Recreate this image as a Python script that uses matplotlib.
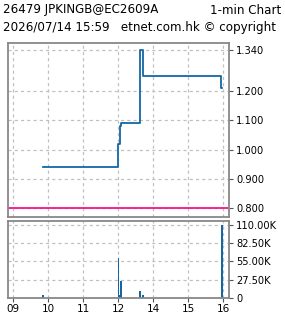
import matplotlib
matplotlib.use("Agg")
import matplotlib.pyplot as plt
from matplotlib.ticker import FixedLocator, FixedFormatter

# ---- data ----
price_times = ["09:51", "13:00", "13:03", "13:05", "13:37", "13:42", "15:56", "15:58"]
price_values = [0.94, 1.02, 1.08, 1.09, 1.34, 1.25, 1.21, 1.21]
vol_times = ["09:51", "13:00", "13:03", "13:05", "13:37", "13:42", "15:58"]
vol_values = [4000, 60000, 4000, 25000, 10500, 4000, 110000]
ref_price = 0.80
price_ticks = [0.80, 0.90, 1.00, 1.10, 1.20, 1.34]
price_tick_labels = ["0.800", "0.900", "1.000", "1.100", "1.200", "1.340"]
vol_ticks = [0, 27500, 55000, 82500, 110000]
vol_tick_labels = ["0", "27.50K", "55.00K", "82.50K", "110.00K"]
hour_ticks = [9, 10, 11, 12, 13, 14, 15]
hour_tick_labels = ["09", "10", "11", "12", "14", "15", "16"]
title_left = "26479 JPKINGB@EC2609A"
title_right = "1-min Chart"
subtitle = "2026/07/14 15:59   etnet.com.hk \u00a9 copyright"


def tpos(s):
    """Trading-time position in hours with the lunch break removed."""
    h, m = map(int, s.split(":"))
    t = h + m / 60.0
    return t if t < 13 else t - 1


px = [tpos(t) for t in price_times]
vx = [tpos(t) for t in vol_times]

W, H = 285, 318
fig = plt.figure(figsize=(W / 100, H / 100), dpi=100)
fig.patch.set_facecolor("white")

line_color = "#1467a3"
grid_kw = dict(color="#c0c0c0", linestyle=(0, (2.5, 2.5)), linewidth=0.9)
frame_color = "#888888"
fs = 7.1


def fr(l, t, r, b):
    return [l / W, 1 - b / H, (r - l) / W, (b - t) / H]


ax = fig.add_axes(fr(8, 43, 229, 217))
av = fig.add_axes(fr(8, 221, 229, 298))

xmin, xmax = 8.85, 15.16
for a in (ax, av):
    a.set_xlim(xmin, xmax)
    for s in a.spines.values():
        s.set_color(frame_color)
        s.set_linewidth(1.3)
    a.xaxis.set_major_locator(FixedLocator(hour_ticks))
    a.grid(True, **grid_kw)
    a.set_axisbelow(True)
    a.yaxis.tick_right()
    a.tick_params(axis="y", which="both", direction="out", length=3, width=0.8,
                  color="#555555", labelsize=fs, pad=2, left=False, right=True)

# price panel
ax.step(px, price_values, where="post", color=line_color, linewidth=1.3)
ax.axhline(ref_price, color="#ff1088", linewidth=1.3)
ax.set_ylim(0.77, 1.364)
ax.yaxis.set_major_locator(FixedLocator(price_ticks))
ax.yaxis.set_major_formatter(FixedFormatter(price_tick_labels))
ax.tick_params(axis="x", bottom=False, labelbottom=False)

# volume panel
av.bar(vx, vol_values, width=1.5 / 35, color=line_color, align="center",
       linewidth=0, antialiased=False)
av.set_ylim(0, 116000)
av.yaxis.set_major_locator(FixedLocator(vol_ticks))
av.yaxis.set_major_formatter(FixedFormatter(vol_tick_labels))
av.xaxis.set_major_formatter(FixedFormatter(hour_tick_labels))
av.tick_params(axis="x", direction="out", length=3, width=0.8, color="#555555",
               labelsize=fs + 0.4, pad=1)

fig.text(3 / W, 1 - 10 / H, title_left, fontsize=8.6, va="center", ha="left")
fig.text(281 / W, 1 - 10 / H, title_right, fontsize=8.6, va="center", ha="right")
fig.text(3 / W, 1 - 27 / H, subtitle, fontsize=8.6, va="center", ha="left")

fig.savefig("out.png", dpi=100)
